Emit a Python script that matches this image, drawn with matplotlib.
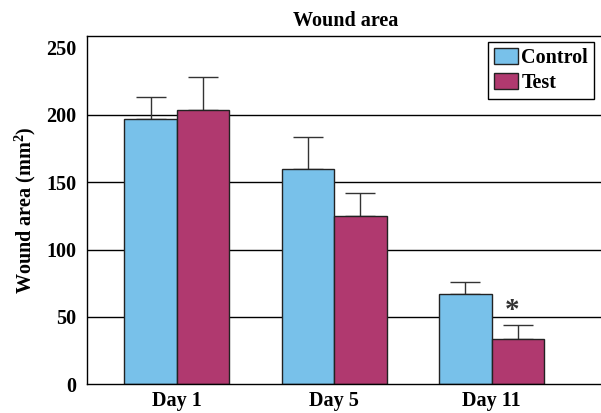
import numpy as np
import matplotlib
matplotlib.use('Agg')
import matplotlib.pyplot as plt

# data
days = ['Day 1', 'Day 5', 'Day 11']
control = [197, 160, 67]
control_err = [16, 24, 9]
test = [204, 125, 34]
test_err = [24, 17, 10]

COL_CTRL = '#78C1EA'
COL_TEST = '#B0396F'

plt.rcParams.update({
    'font.family': ['Liberation Serif', 'DejaVu Serif'],
    'font.weight': 'bold', 'font.size': 14.5,
    'axes.labelweight': 'bold', 'axes.titleweight': 'bold',
    'axes.linewidth': 1.0,
    'mathtext.fontset': 'custom',
    'mathtext.rm': 'Liberation Serif:bold',
    'mathtext.bf': 'Liberation Serif:bold',
})

fig = plt.figure(figsize=(6.01, 4.13), dpi=100, facecolor='white')
ax = fig.add_axes([0.1453, 0.0695, 0.8547, 0.8445])

x = np.arange(len(days))
w = 1 / 3
for yv in [50, 100, 150, 200]:
    ax.axhline(yv, color='black', lw=1.0, zorder=0)

ax.bar(x - w / 2, control, w, color=COL_CTRL, edgecolor='#222222', lw=1.0, zorder=2, label='Control')
ax.bar(x + w / 2, test, w, color=COL_TEST, edgecolor='#222222', lw=1.0, zorder=2, label='Test')
ax.errorbar(x - w / 2, control, yerr=[np.zeros(3), control_err], fmt='none', ecolor='#333333',
            elinewidth=1.0, capsize=11, capthick=1.0, zorder=1)
ax.errorbar(x + w / 2, test, yerr=[np.zeros(3), test_err], fmt='none', ecolor='#333333',
            elinewidth=1.0, capsize=11, capthick=1.0, zorder=1)

# significance mark over Day 11 test bar
ax.text(2 + w / 2 - 0.035, 55, '*', ha='center', va='center', fontsize=21, fontweight='bold', color='#333333')

ax.set_xlim(-0.568, 2.694)
ax.set_ylim(0, 259)
ax.set_yticks([0, 50, 100, 150, 200, 250])
ax.set_xticks(x)
ax.set_xticklabels(days)
ax.tick_params(length=0, pad=8)
ax.tick_params(axis='x', pad=5)
ax.spines['right'].set_visible(False)
ax.set_ylabel('Wound area (mm$^{\\mathbf{2}}$)', labelpad=6)
ax.set_title('Wound area', fontsize=14.5, pad=7, x=0.502)

ax.legend(loc='upper right', bbox_to_anchor=(0.9865, 0.982), frameon=True, fancybox=False,
          edgecolor='black', framealpha=1, handlelength=1.2, handleheight=0.85,
          handletextpad=0.15, borderpad=0.3, labelspacing=0.25, borderaxespad=0)

fig.savefig('out.png', dpi=100, facecolor='white')
